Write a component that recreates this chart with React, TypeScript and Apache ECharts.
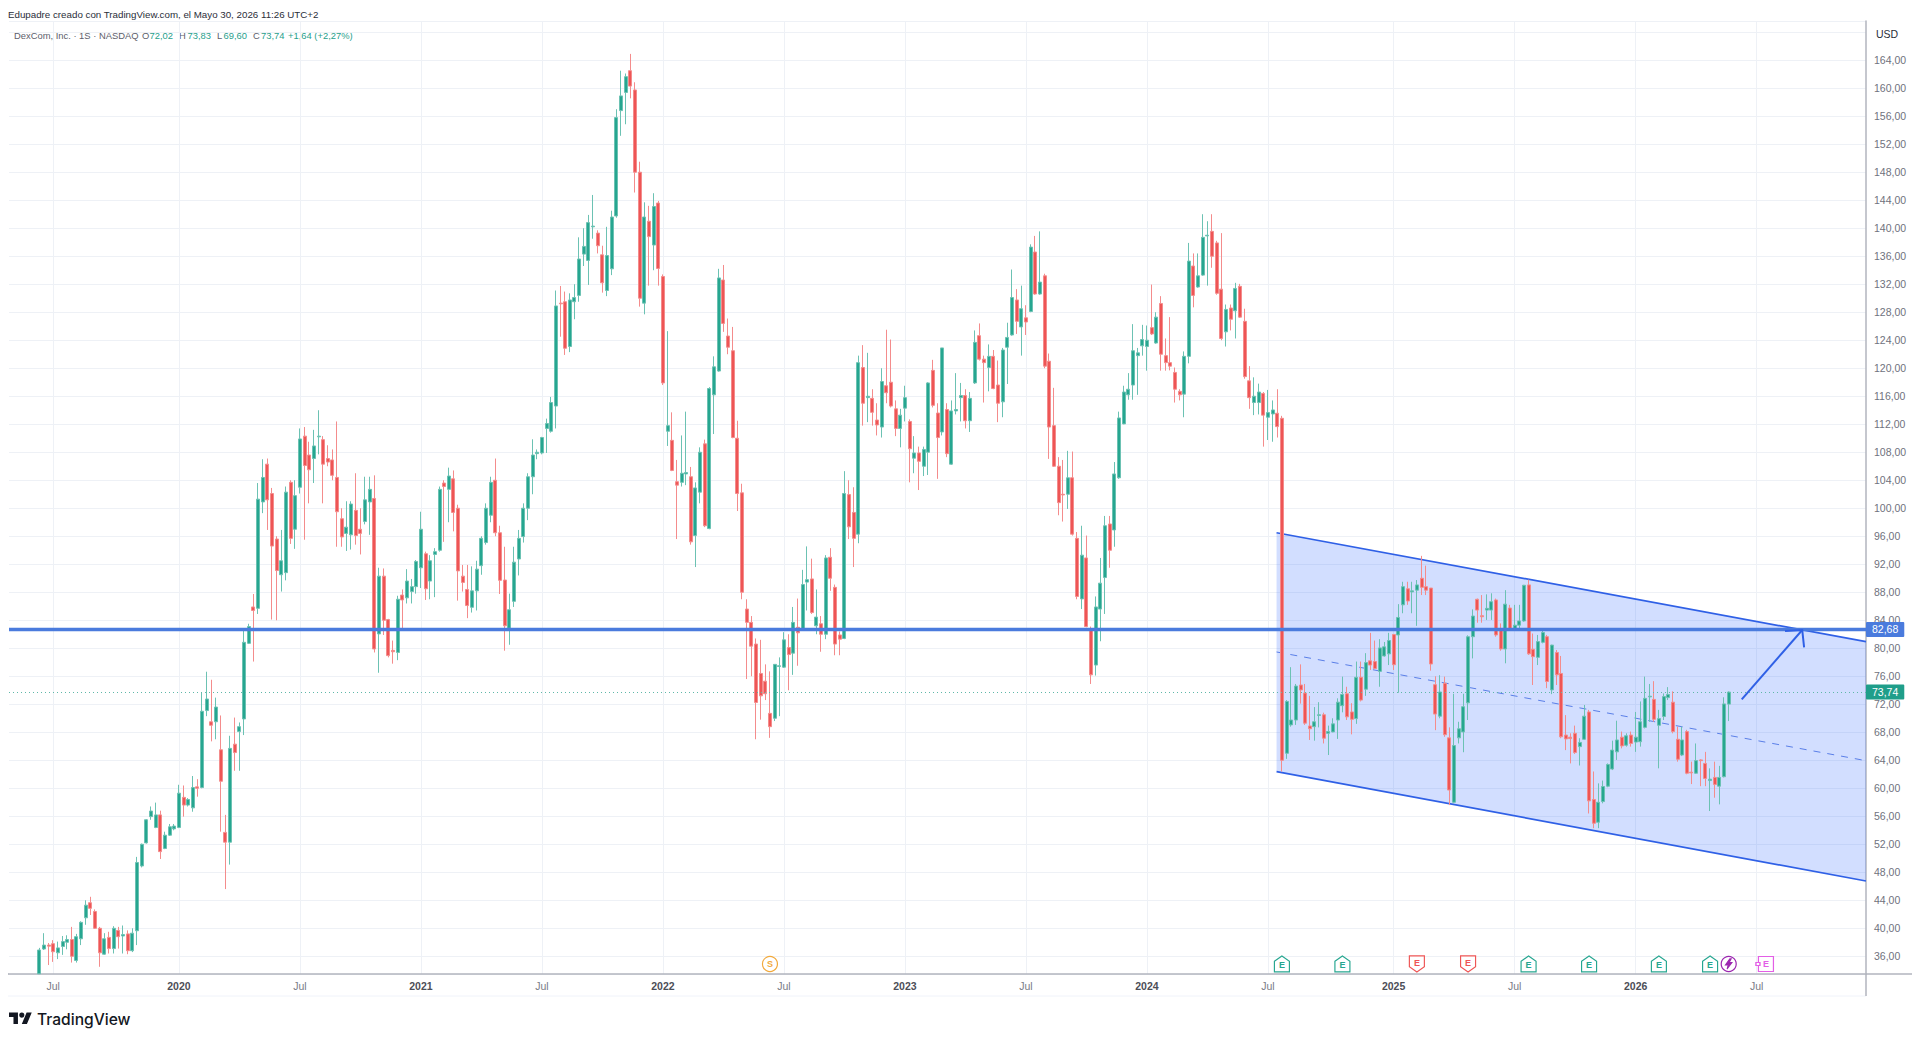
import { useEffect, useRef } from 'react';
import * as echarts from 'echarts';

// weekly candles (first candle is Jun 2019)
const opens = [
  33.5,37.04,37.6,37.8,36.5,37.4,38.0,38.4,35.4,38.5,
  41.5,43.65,42.4,40.0,36.3,38.7,37.1,39.7,38.9,39.2,
  36.8,39.65,48.9,52.2,55.95,54.4,56.2,51.4,53.3,54.2,
  54.4,58.7,57.6,57.2,60.2,60.1,71.1,69.5,69.5,65.5,
  53.7,52.3,66.3,68.1,69.9,80.7,85.9,85.7,100.9,106.3,
  102.1,95.6,90.5,90.8,103.7,97.0,103.0,110.3,107.6,107.1,
  110.2,109.8,107.1,106.9,104.4,98.5,96.4,96.2,99.7,97.0,
  98.1,100.9,101.4,82.05,90.3,84.1,79.7,79.4,87.6,87.2,
  88.1,88.8,91.5,93.5,89.6,93.4,94.0,103.6,102.7,104.2,
  100.0,90.3,88.4,85.85,88.2,91.8,95.1,99.0,104.0,96.5,
  89.75,82.85,86.7,92.75,95.95,100.0,104.5,107.8,107.9,111.4,
  111.0,114.6,129.3,129.5,123.1,129.5,130.4,136.3,135.4,140.2,
  139.3,136.2,131.1,134.2,141.75,156.8,159.4,162.5,159.75,148.0,
  129.3,141.0,137.6,143.6,133.1,111.0,109.7,103.8,103.7,104.9,
  104.5,96.1,102.3,109.2,97.1,116.2,119.6,132.6,124.6,122.5,
  110.0,102.2,85.6,83.7,80.6,76.4,75.3,70.7,70.0,77.4,
  77.3,80.1,79.3,83.0,82.8,89.45,89.9,83.2,83.5,82.0,
  93.0,88.7,81.9,81.4,101.95,99.4,96.3,120.1,115.8,115.7,
  112.6,111.6,117.5,118.0,114.2,111.4,114.3,112.4,107.15,107.9,
  106.0,108.0,119.7,113.6,110.9,114.1,106.3,113.9,115.8,116.1,
  112.5,117.9,124.65,121.3,120.1,121.7,117.6,115.2,123.0,124.75,
  129.75,125.9,127.2,128.1,136.6,130.6,133.2,121.0,111.8,106.0,
  102.0,102.0,104.35,95.7,87.05,92.9,82.8,77.6,85.6,90.1,
  97.75,96.9,104.35,112.05,116.2,117.6,121.8,123.2,123.1,125.8,
  123.6,129.25,121.8,120.8,119.4,116.7,116.3,121.7,134.6,131.6,
  133.3,138.9,139.55,137.9,131.3,125.2,128.6,128.2,131.7,126.7,
  118.2,115.1,115.1,116.4,113.0,113.47,113.57,112.85,65.0,69.05,
  69.75,74.75,73.6,68.9,68.8,70.4,70.5,67.85,68.05,69.75,
  71.8,73.5,70.9,69.95,75.85,74.15,78.2,78.1,76.7,78.9,
  79.2,81.95,81.9,86.2,88.5,88.05,88.3,90.0,88.8,88.6,
  74.8,70.3,75.0,67.2,58.0,67.2,68.05,72.2,81.65,87.0,
  84.65,85.45,85.45,86.9,82.6,79.9,85.75,82.75,83.3,83.9,
  89.05,79.85,78.7,80.85,81.65,74.05,79.4,76.4,67.6,67.3,
  67.85,65.95,67.0,70.9,58.4,55.15,58.1,60.3,62.75,65.2,
  67.3,66.15,67.6,66.6,66.65,68.7,73.05,72.7,69.0,70.25,
  72.95,72.3,67.0,64.75,68.1,62.3,62.15,64.05,63.55,61.1,
  61.55,60.3,61.65,72.02,
];
const closes = [
  36.9,37.6,37.45,36.65,37.2,38.1,38.4,36.0,38.8,40.85,
  43.3,42.85,40.0,36.5,38.5,37.1,40.0,38.8,39.1,36.8,
  39.3,49.4,52.0,55.5,56.75,56.2,50.95,53.3,54.5,54.6,
  59.3,57.6,58.4,60.1,60.0,71.0,72.75,69.0,71.6,61.0,
  52.3,65.7,65.1,68.8,80.85,83.1,85.4,101.3,104.4,101.2,
  94.6,91.1,92.5,102.3,95.7,101.8,109.9,106.1,105.5,108.9,
  110.3,106.3,106.6,104.7,99.5,95.9,97.3,100.6,96.1,96.4,
  101.2,102.7,79.9,90.3,84.0,78.95,79.5,87.0,86.9,89.6,
  88.8,92.4,97.0,88.5,92.5,93.8,102.7,103.1,104.6,99.4,
  91.05,89.4,86.1,88.2,91.3,95.7,100.0,103.7,96.5,89.7,
  83.2,85.5,92.3,95.7,100.0,104.5,107.6,108.0,110.1,112.1,
  115.1,128.9,129.2,122.85,129.75,130.1,135.6,137.4,140.8,140.3,
  137.5,132.2,136.1,141.6,155.8,158.9,161.65,160.3,148.0,130.0,
  141.6,138.8,143.1,134.25,117.9,111.8,105.4,103.3,105.0,105.1,
  95.2,102.9,108.0,97.5,117.1,120.2,132.9,126.4,123.0,110.1,
  102.1,88.0,83.7,80.3,72.25,73.2,73.5,68.8,77.7,77.5,
  81.2,79.1,83.7,82.2,89.1,89.8,85.1,84.45,82.0,92.9,
  90.0,80.6,81.3,102.1,97.35,95.7,120.8,115.0,116.0,113.7,
  111.9,118.1,116.5,114.6,111.4,113.3,115.8,108.5,107.9,106.7,
  108.4,117.9,114.7,110.1,122.9,107.8,113.9,114.1,116.1,112.5,
  115.7,123.7,121.3,120.8,121.7,117.1,115.0,122.6,124.4,130.1,
  126.7,128.5,126.6,137.3,130.6,132.3,120.3,111.6,106.0,100.8,
  101.9,104.35,96.3,87.4,93.3,83.1,76.2,85.9,89.3,97.5,
  94.0,104.9,112.9,116.6,117.0,122.5,122.2,124.1,124.0,124.9,
  127.3,122.0,120.8,120.3,117.0,116.2,121.7,135.3,130.4,133.2,
  138.7,139.0,136.0,130.7,124.25,128.4,127.0,131.4,127.3,118.8,
  115.8,116.0,116.6,113.3,113.66,114.04,111.66,64.0,72.4,69.75,
  74.6,74.05,69.3,68.5,69.5,70.5,67.15,68.1,69.2,72.3,
  73.4,70.2,69.85,75.85,72.6,77.95,77.6,77.1,80.05,80.2,
  81.1,77.65,84.4,88.8,86.75,88.2,89.05,88.7,88.3,77.75,
  70.6,73.75,67.65,59.75,66.1,68.5,71.65,81.65,84.6,85.45,
  84.5,85.7,86.65,81.9,79.9,86.3,82.7,83.3,83.9,89.0,
  79.2,78.8,80.95,82.25,75.25,80.45,76.2,67.35,67.05,67.1,
  65.1,66.55,70.3,58.2,55.0,58.0,60.25,63.4,65.45,66.9,
  66.05,67.5,66.4,67.3,69.5,72.85,73.15,69.85,69.95,73.1,
  73.4,68.1,64.15,66.9,62.15,62.2,63.95,63.95,61.4,61.3,
  60.55,61.55,72.05,73.74,
];
const lows = [
  33.5,36.9,34.75,35.2,35.6,36.2,37.0,35.1,35.1,37.6,
  40.5,41.9,39.9,34.5,36.2,36.4,36.4,37.1,36.4,36.3,
  36.6,37.6,48.7,52.1,55.5,54.3,49.9,51.3,53.2,54.0,
  54.3,55.95,57.4,56.65,58.8,60.0,70.3,66.7,67.0,53.8,
  45.6,49.1,62.5,62.5,67.6,80.6,78.1,84.9,99.3,96.9,
  84.1,84.0,88.1,89.7,94.9,94.2,102.1,95.5,100.7,103.6,
  107.7,100.7,106.0,104.0,94.5,94.5,93.9,94.1,94.8,93.4,
  97.7,96.2,79.4,76.5,81.9,78.7,77.8,78.3,82.5,86.4,
  86.4,87.8,88.6,86.9,87.0,87.3,93.8,95.2,98.0,96.7,
  86.8,88.1,84.3,85.1,85.4,90.5,94.8,98.0,96.0,87.75,
  79.65,80.5,85.9,90.4,95.1,98.3,102.0,107.0,107.7,107.9,
  110.8,111.4,124.5,121.9,122.3,127.0,129.5,134.6,131.9,138.5,
  136.4,130.8,130.3,133.3,141.5,153.2,154.85,158.55,145.1,128.8,
  127.7,131.8,134.0,131.8,117.6,108.9,105.3,95.6,103.1,103.3,
  94.8,91.6,100.7,97.3,97.0,110.6,119.5,125.2,122.0,110.0,
  99.6,87.0,75.6,76.0,67.0,69.8,72.6,67.2,69.6,70.3,
  77.2,74.0,76.2,77.5,82.5,85.4,84.9,82.0,79.5,81.3,
  88.2,79.0,79.0,81.3,95.6,91.6,95.0,111.8,112.3,111.8,
  110.4,110.1,115.0,114.4,110.3,108.7,112.4,103.7,105.0,102.6,
  104.6,104.75,114.4,104.2,110.4,107.3,106.2,113.4,112.4,111.4,
  110.9,117.75,121.1,115.1,116.7,117.0,112.3,113.0,117.75,124.65,
  124.9,121.8,124.75,128.0,130.5,130.5,120.0,107.05,105.9,99.0,
  98.1,99.9,96.1,87.0,85.6,83.0,74.9,76.1,81.0,84.9,
  91.5,94.5,104.2,112.0,115.5,115.5,116.2,121.8,119.65,124.75,
  123.5,119.65,119.65,119.7,115.1,115.4,113.0,120.7,128.7,131.5,
  133.2,131.8,134.35,130.5,124.0,123.1,125.4,124.25,127.2,118.5,
  114.2,113.3,113.4,108.8,109.75,109.5,110.1,62.4,64.2,68.8,
  69.05,72.1,69.05,66.9,66.8,68.7,66.4,64.75,68.0,67.05,
  70.85,69.75,67.7,69.2,72.4,73.2,76.9,77.0,74.5,78.8,
  77.6,76.9,73.65,85.0,86.2,85.0,83.2,87.6,87.6,76.8,
  68.3,70.0,67.35,57.6,57.85,66.4,65.15,69.75,78.55,83.65,
  83.65,84.05,84.05,81.65,79.65,77.85,82.6,82.6,82.6,83.8,
  79.05,74.75,77.6,80.7,74.3,73.45,74.75,67.15,65.45,63.55,
  64.9,63.25,66.9,56.4,54.3,54.3,57.85,60.15,62.6,64.05,
  65.7,65.95,65.95,65.2,65.95,68.55,69.5,69.5,62.85,69.75,
  72.6,67.85,63.8,64.6,62.0,60.6,62.05,60.3,60.3,56.75,
  58.65,57.7,61.55,69.6,
];
const highs = [
  37.2,39.3,37.9,38.3,38.1,38.9,39.0,40.2,39.2,41.0,
  44.0,44.5,42.7,40.2,39.3,39.5,40.3,40.2,40.4,39.7,
  40.0,50.2,52.1,55.6,57.4,57.95,56.8,53.8,54.9,54.9,
  60.5,60.4,58.6,61.75,61.3,73.7,76.65,75.5,72.95,70.4,
  56.2,67.5,70.1,69.4,82.6,83.5,87.75,103.6,107.0,107.1,
  102.9,96.0,96.9,103.1,104.0,104.0,111.4,111.6,109.5,111.2,
  114.0,110.3,109.0,108.4,112.4,100.0,101.0,101.0,105.0,100.0,
  104.5,104.5,104.7,91.5,91.4,84.2,81.1,87.5,88.4,91.3,
  89.9,92.6,99.5,93.8,93.3,94.3,103.1,104.0,105.8,105.4,
  100.5,91.9,91.9,91.7,92.5,96.0,100.7,104.5,107.1,97.5,
  94.5,87.8,94.5,96.9,100.7,105.0,109.85,108.4,110.2,112.8,
  115.9,131.1,131.75,130.95,130.7,132.0,138.7,140.0,141.9,144.75,
  139.7,137.5,140.2,142.5,157.0,162.5,162.1,164.9,160.85,149.5,
  143.7,143.2,145.0,143.9,133.4,125.3,113.7,106.9,110.4,113.8,
  105.9,103.7,108.7,109.8,117.3,121.7,134.2,134.75,127.1,125.9,
  112.5,103.5,87.0,84.6,81.4,81.2,77.7,76.7,77.7,78.7,
  82.3,82.0,85.9,87.1,91.2,94.55,92.8,88.4,84.6,93.3,
  94.3,89.1,82.4,105.3,104.0,103.0,121.8,123.3,122.2,117.0,
  115.0,120.0,125.5,124.1,115.4,114.2,117.5,112.7,110.3,108.8,
  108.8,118.0,121.2,115.0,122.9,115.0,115.4,119.3,117.9,117.0,
  116.6,125.4,126.4,121.8,123.4,122.6,121.1,122.9,126.5,134.1,
  131.3,131.8,129.0,137.7,138.9,139.55,133.5,122.1,117.2,107.3,
  106.9,108.2,108.1,96.6,97.5,96.1,83.1,87.4,92.9,98.9,
  98.9,106.6,113.8,117.5,119.3,126.3,122.9,126.2,126.1,131.95,
  128.0,130.3,124.25,127.3,120.1,117.0,122.4,137.9,136.4,136.4,
  142.0,141.0,142.0,138.2,139.3,129.1,129.1,132.2,132.05,128.5,
  120.3,118.7,117.8,116.6,116.9,115.4,117.0,113.2,72.6,77.3,
  74.9,77.7,74.9,73.2,71.6,72.3,70.8,68.95,70.0,72.85,
  75.95,74.5,72.15,78.1,78.1,79.3,82.2,81.1,81.3,80.9,
  82.2,82.05,86.3,89.5,89.5,89.5,89.75,93.2,91.8,88.6,
  76.0,76.15,75.95,68.7,73.5,69.5,73.5,81.85,85.55,87.1,
  87.6,87.7,87.85,87.1,83.55,88.3,86.2,86.2,86.2,89.05,
  89.8,82.1,81.9,82.85,81.9,80.5,79.75,78.9,70.45,67.85,
  68.95,67.15,71.9,71.2,62.4,60.7,61.1,63.55,66.8,69.65,
  68.1,67.85,68.1,70.9,72.4,75.95,74.9,75.3,71.2,73.55,
  74.45,73.85,68.8,68.8,68.35,63.8,66.4,64.15,65.2,62.85,
  63.8,63.2,73.0,73.83,
];

// candle index of each time tick
const yearTicks: [string, number][] = [['2020', 30], ['2021', 82], ['2022', 134], ['2023', 186], ['2024', 238], ['2025', 291], ['2026', 343]];
const julyTicks = [3, 56, 108, 160, 212, 264, 317, 369];

// drawings: [candle index, price]
const channelUpper = [[265.85, 96.5], [392.5, 80.94]];
const channelLower = [[265.85, 62.37], [392.5, 46.76]];
const channelMiddle = [[265.85, 79.47], [392.5, 63.94]];
const arrowShaft = [[365.8, 72.71], [378.8, 82.61]];
const arrowHead = [[375.1, 82.47], [378.8, 82.61], [379.2, 80.14]];
const levelPrice = 82.68;
const lastPrice = 73.74;

// event markers, by candle index
const earningsBeat = [267, 280, 320, 333, 348, 359];
const earningsMiss = [296, 307];
const dividends = [157];
const splits = [363];
const earningsNext = [371];
const markerPrice = 34.9;

// legend line: [text, left, teal?]
const ohlcTexts: [string, number, boolean][] = [
  ['DexCom, Inc. · 1S · NASDAQ', 14, false],
  ['O', 142, false], ['72,02', 149.5, true],
  ['H', 179, false], ['73,83', 187.5, true],
  ['L', 217, false], ['69,60', 223.5, true],
  ['C', 253, false], ['73,74', 261, true],
  ['+1,64 (+2,27%)', 288, true],
];

const PAD = 6; // empty bands before the first candle
const BAND_COUNT = 399;
const UP = '#26a690';
const DOWN = '#ee5555';
const FONT = '"Liberation Sans", Arial, sans-serif';

echarts.graphic.registerShape(
  'tvLogo',
  echarts.graphic.extendPath('M14 22H7V11H0V4h14v18zM28 22h-8l7.5-18h8L28 22zM20 4a4 4 0 1 1 0 8a4 4 0 1 1 0-8z', {}) as any,
);

const tickLabels: string[] = Array.from({ length: BAND_COUNT }, () => '');
julyTicks.forEach((i) => { tickLabels[i + PAD] = 'Jul'; });
yearTicks.forEach(([label, i]) => { tickLabels[i + PAD] = label; });

function formatPrice(v: number): string {
  return v.toFixed(2).replace('.', ',');
}

function marker(indices: number[], symbol: string, size: number | number[], color: string, label: any, fill = '#ffffff') {
  return {
    type: 'scatter',
    z: 6,
    silent: true,
    symbol,
    symbolSize: size,
    data: indices.map((i) => [i + PAD, markerPrice]),
    itemStyle: { color: fill, borderColor: color, borderWidth: 1.2, opacity: 1 },
    label: { show: true, position: 'inside', color, fontSize: 9, fontWeight: 'bold', fontFamily: FONT, ...label },
  };
}

function renderChannel(_: unknown, api: any) {
  const pts = (line: number[][]) => line.map((p) => api.coord(p));
  const edge = { stroke: '#2f60e6', lineWidth: 1.7, fill: 'none' };
  return {
    type: 'group',
    children: [
      {
        type: 'polygon',
        shape: { points: [...pts(channelUpper), ...pts(channelLower).reverse()] },
        style: { fill: 'rgba(41,98,255,0.21)' },
      },
      { type: 'polyline', shape: { points: pts(channelUpper) }, style: edge },
      { type: 'polyline', shape: { points: pts(channelLower) }, style: edge },
      {
        type: 'polyline',
        shape: { points: pts(channelMiddle) },
        style: { stroke: '#5a7fe8', lineWidth: 1, lineDash: [7, 7], fill: 'none' },
      },
    ],
  };
}

function renderArrow(_: unknown, api: any) {
  const pts = (line: number[][]) => line.map((p) => api.coord(p));
  const style = { stroke: '#2f60e6', lineWidth: 2, fill: 'none' };
  return {
    type: 'group',
    children: [
      { type: 'polyline', shape: { points: pts(arrowShaft) }, style },
      { type: 'polyline', shape: { points: pts(arrowHead) }, style },
    ],
  };
}

export default function App() {
  const chartRef = useRef<HTMLDivElement>(null);

  useEffect(() => {
    if (!chartRef.current) return;
    const chart = echarts.init(chartRef.current, undefined, { renderer: 'svg' });

    const padding = Array.from({ length: PAD }, () => ['-', '-', '-', '-']);
    const candles = opens.map((o, i) => [o, closes[i], lows[i], highs[i]]);
    const isTick = (index: number) => tickLabels[index] !== '';

    const option: any = {
      animation: false,
      backgroundColor: '#ffffff',
      textStyle: { fontFamily: FONT },
      grid: { left: 9, right: 54, top: 21, height: 953, containLabel: false },
      xAxis: [
        {
          type: 'category',
          data: tickLabels,
          boundaryGap: true,
          axisTick: { show: false },
          axisLine: { onZero: false, lineStyle: { color: '#b2b5be', width: 1.5 } },
          axisLabel: {
            interval: (index: number) => isTick(index),
            margin: 6,
            color: '#787b86',
            fontSize: 10.5,
            fontFamily: FONT,
            hideOverlap: false,
            formatter: (v: string) => (v === 'Jul' ? v : `{y|${v}}`),
            rich: { y: { color: '#4c4e57', fontWeight: 'bold', fontSize: 10.5, fontFamily: FONT } },
          },
          splitLine: {
            show: true,
            alignWithLabel: true,
            interval: (index: number) => isTick(index),
            lineStyle: { color: '#eef1f6', width: 1 },
          },
        },
        { type: 'value', show: false, min: -PAD - 0.5, max: BAND_COUNT - PAD - 0.5, splitLine: { show: false } },
      ],
      yAxis: {
        type: 'value',
        position: 'right',
        min: 33.47,
        max: 169.6,
        minInterval: 4,
        maxInterval: 4,
        axisTick: { show: false },
        axisLine: { show: true, onZero: false, lineStyle: { color: '#b2b5be', width: 1.5 } },
        axisLabel: {
          margin: 8,
          color: '#6f727d',
          fontSize: 10.5,
          fontFamily: FONT,
          showMinLabel: false,
          showMaxLabel: false,
          formatter: (v: number) => (v % 4 === 0 && v <= 164 ? formatPrice(v) : ''),
        },
        splitLine: { show: true, lineStyle: { color: '#eef1f6', width: 1 } },
      },
      series: [
        {
          type: 'custom',
          xAxisIndex: 1,
          z: 1,
          silent: true,
          data: [[0, 0]],
          renderItem: renderChannel,
        },
        {
          type: 'candlestick',
          z: 2,
          barWidth: 3.5,
          data: [...padding, ...candles],
          itemStyle: {
            color: UP,
            color0: DOWN,
            borderColor: '#6cc2b3',
            borderColor0: '#f48c8c',
            borderWidth: 1,
          },
          markLine: {
            silent: true,
            symbol: 'none',
            precision: 2,
            z: 5,
            data: [
              {
                yAxis: lastPrice,
                lineStyle: { color: '#5fb8a8', width: 1, type: [1, 3] },
                label: {
                  position: 'end',
                  distance: 0,
                  formatter: formatPrice(lastPrice),
                  color: '#ffffff',
                  fontSize: 10.5,
                  fontFamily: FONT,
                  backgroundColor: '#1f9e8a',
                  padding: [2, 6],
                  borderRadius: 1,
                },
              },
              {
                yAxis: levelPrice,
                lineStyle: { color: '#4a7bdd', width: 3.4, type: 'solid' },
                label: {
                  position: 'end',
                  distance: 0,
                  formatter: formatPrice(levelPrice),
                  color: '#ffffff',
                  fontSize: 10.5,
                  fontFamily: FONT,
                  backgroundColor: '#4a7bdd',
                  padding: [2, 6],
                  borderRadius: 1,
                },
              },
            ],
          },
        },
        {
          type: 'custom',
          xAxisIndex: 1,
          z: 6,
          silent: true,
          data: [[0, 0]],
          renderItem: renderArrow,
        },
        marker(earningsBeat, 'path://M0 6L8 0L16 6V18H0Z', [15, 16], UP, { formatter: 'E', offset: [0, 1] }),
        marker(earningsMiss, 'path://M0 0H16V12L8 18L0 12Z', [15, 16], DOWN, { formatter: 'E', offset: [0, -1] }),
        marker(dividends, 'circle', 15, '#f2a93b', { formatter: 'S' }),
        marker(splits, 'circle', 15, '#9c27b0', { show: false }),
        marker(splits, 'path://M6 0L0 9H4L2 16L9 6H5L8 0Z', [6, 10], '#9c27b0', { show: false }, '#9c27b0'),
        marker(earningsNext, 'rect', 15, '#e35ee6', { formatter: 'E' }),
        { ...marker(earningsNext, 'rect', [4, 3], '#e35ee6', { show: false }), symbolOffset: [-8, 0] },
      ],
      graphic: {
        elements: [
          // price and time scale frame
          { type: 'line', z: 3, shape: { x1: 1866, y1: 974, x2: 1866, y2: 996 }, style: { stroke: '#b2b5be', lineWidth: 1.5 } },
          { type: 'line', z: 3, shape: { x1: 8, y1: 974, x2: 9, y2: 974 }, style: { stroke: '#b2b5be', lineWidth: 1.5 } },
          { type: 'line', z: 3, shape: { x1: 1866, y1: 974, x2: 1912, y2: 974 }, style: { stroke: '#b2b5be', lineWidth: 1.5 } },
          { type: 'line', z: 0, shape: { x1: 8, y1: 996, x2: 1866, y2: 996 }, style: { stroke: '#f0f3fa', lineWidth: 1 } },
          { type: 'text', x: 1876, y: 34, style: { text: 'USD', fill: '#2a2e39', font: `10.5px ${FONT}`, verticalAlign: 'middle' } },
          {
            type: 'text',
            x: 8,
            y: 14,
            style: {
              text: 'Edupadre creado con TradingView.com, el Mayo 30, 2026 11:26 UTC+2',
              fill: '#2a2e39',
              font: `9.75px ${FONT}`,
              verticalAlign: 'middle',
            },
          },
          ...ohlcTexts.map(([text, x, teal]) => ({
            type: 'text',
            x,
            y: 35,
            style: { text, fill: teal ? '#1fa08c' : '#5d606b', font: `9.4px ${FONT}`, verticalAlign: 'middle' },
          })),
          { type: 'tvLogo', x: 9, y: 1010, scaleX: 0.64, scaleY: 0.64, style: { fill: '#131722' } },
          {
            type: 'text',
            x: 37,
            y: 1019,
            style: { text: 'TradingView', fill: '#131722', font: `500 15.6px Inter, ${FONT}`, verticalAlign: 'middle' },
          },
        ],
      },
    };

    chart.setOption(option);
    return () => {
      chart.dispose();
    };
  }, []);

  return (
    <div style={{ position: 'fixed', left: 0, top: 0, width: 1920, height: 1042, background: '#ffffff' }}>
      <div ref={chartRef} style={{ width: 1920, height: 1042 }} />
    </div>
  );
}
